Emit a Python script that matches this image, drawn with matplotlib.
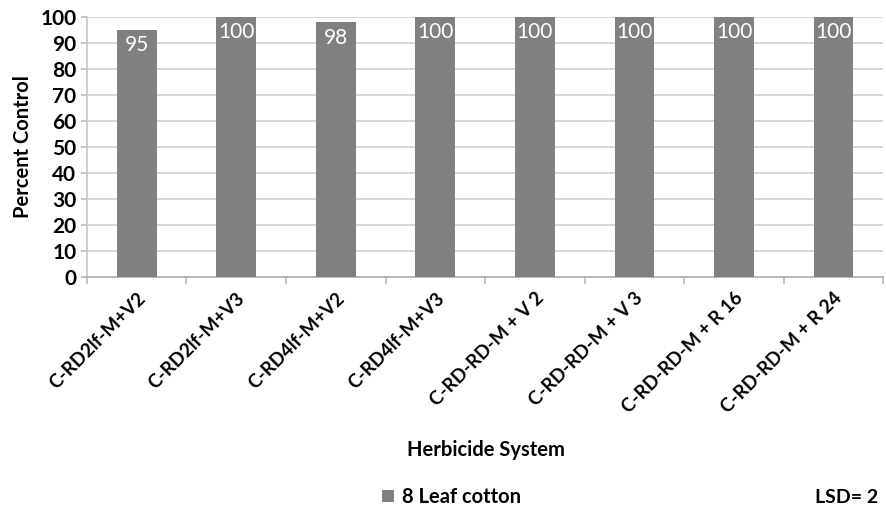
import numpy as np
import matplotlib.pyplot as plt

plt.rcParams['font.family'] = ['Lato', 'DejaVu Sans']

# herbicide systems and percent control for 8 leaf cotton
systems = ['C-RD2lf-M+V2', 'C-RD2lf-M+V3', 'C-RD4lf-M+V2', 'C-RD4lf-M+V3',
           'C-RD-RD-M + V 2', 'C-RD-RD-M + V 3', 'C-RD-RD-M + R 16', 'C-RD-RD-M + R 24']
control = [95, 100, 98, 100, 100, 100, 100, 100]
lsd = 2

bar_color = '#808080'

fig = plt.figure(figsize=(8.86, 5.13), dpi=100)
ax = fig.add_axes([0.098, 0.46, 0.899, 0.507])

x = np.arange(len(systems))
bars = ax.bar(x, control, width=0.4, color=bar_color, zorder=3, label='8 Leaf cotton')

# value labels inside the top of each bar
for xi, v in zip(x, control):
    ax.annotate(str(v), (xi, v), xytext=(0, -4), textcoords='offset points',
                ha='center', va='top', color='white', fontsize=15, zorder=4)

ax.set_xlim(-0.5, len(systems) - 0.5)
ax.set_ylim(0, 100)
ax.set_yticks(range(0, 101, 10))
ax.yaxis.grid(True, color='#d0d0d0', linewidth=1.2, zorder=0)

# category boundary ticks on x
ax.set_xticks(np.arange(-0.5, len(systems), 1.0))
ax.set_xticklabels([])
ax.set_xticks(x, minor=True)
ax.set_xticklabels(systems, minor=True, rotation=45, ha='right',
                   rotation_mode='anchor', fontsize=13.5, fontweight='bold')
ax.tick_params(axis='x', which='major', length=5, color='#bbbbbb', width=1.2)
ax.tick_params(axis='x', which='minor', length=0, pad=9)
ax.tick_params(axis='y', length=4, color='#bbbbbb', width=1.2, labelsize=15)
for lbl in ax.get_yticklabels():
    lbl.set_fontweight('bold')

for side in ['top', 'right']:
    ax.spines[side].set_visible(False)
ax.spines['left'].set_color('#c8c8c8')
ax.spines['bottom'].set_color('#b0b0b0')
ax.spines['left'].set_linewidth(1.2)
ax.spines['bottom'].set_linewidth(1.2)

ax.set_ylabel('Percent Control', fontsize=14.5, fontweight='bold', labelpad=5)

fig.text(0.548, 0.122, 'Herbicide System', ha='center', va='center',
         fontsize=14.5, fontweight='bold')

fig.legend(handles=[bars], loc='center', bbox_to_anchor=(0.51, 0.031),
           frameon=False, handlelength=0.6, handleheight=0.6,
           handletextpad=0.4, prop={'weight': 'bold', 'size': 14.5})

fig.text(0.955, 0.031, 'LSD= %d' % lsd, ha='center', va='center',
         fontsize=14, fontweight='bold')

fig.savefig('out.png', dpi=100)
